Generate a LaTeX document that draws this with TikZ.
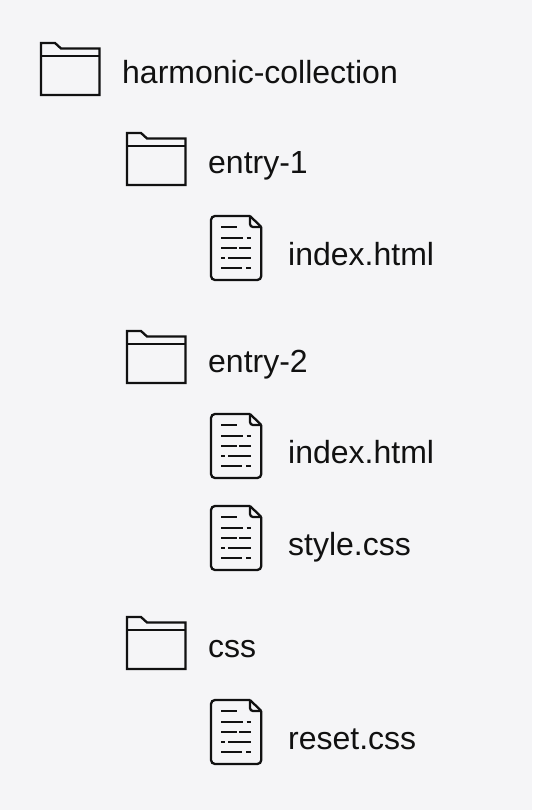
\documentclass[tikz,border=0pt]{standalone}
\usepackage{fontspec}
\setmainfont{Liberation Sans}
\definecolor{pagebg}{HTML}{F5F5F7}
\definecolor{inkline}{HTML}{111111}
\tikzset{
  folder/.pic = {
    \draw[icon] (0,52) -- (0,0) -- (14,0) -- (20,5.5) -- (58.5,5.5) -- (58.5,52) -- cycle;
    \draw[icon] (0,13) -- (58.5,13);
  },
  document/.pic = {
    \draw[icon, rounded corners=4] (39,0) -- (0,0) -- (0,64) -- (50.3,64) -- (50.3,11);
    \draw[icon] (39,0) -- (50.3,11);
    \draw[icon, rounded corners=3] (39,0) -- (39,11) -- (50.3,11);
    \draw[icon] (10,11) -- (25.7,11);
    \draw[icon] (10,22) -- (32.3,22) (35.7,22) -- (40,22);
    \draw[icon] (10,32) -- (25.7,32) (28.3,32) -- (40,32);
    \draw[icon] (10,42) -- (14,42) (17.3,42) -- (40,42);
    \draw[icon] (10,52) -- (30.7,52) (35,52) -- (40,52);
  },
}
\begin{document}
\begin{tikzpicture}[x=1pt, y=-1pt,
  icon/.style = {draw=inkline, line width=2.3pt, line join=miter},
  entry/.style = {anchor=base west, inner sep=0pt, text=inkline, font=\fontsize{32}{38}\selectfont},
  ]
  \fill[pagebg] (0,0) rectangle (532,810);
  \useasboundingbox (0,0) rectangle (532,810);

  \pic (root) at (41,43) {folder};
  \node[entry] (rootname) at (122,84) {harmonic-collection};

  \pic (one) at (127,133) {folder};
  \node[entry] (onename) at (208,174) {entry-1};
  \pic (oneindex) at (211,216) {document};
  \node[entry] (oneindexname) at (288,265) {index.html};

  \pic (two) at (127,331) {folder};
  \node[entry] (twoname) at (208,372) {entry-2};
  \pic (twoindex) at (211,414) {document};
  \node[entry] (twoindexname) at (288,463) {index.html};
  \pic (twostyle) at (211,506) {document};
  \node[entry] (twostylename) at (288,555) {style.css};

  \pic (css) at (127,617) {folder};
  \node[entry] (cssname) at (208,657) {css};
  \pic (cssreset) at (211,700) {document};
  \node[entry] (cssresetname) at (288,749) {reset.css};
\end{tikzpicture}
\end{document}
